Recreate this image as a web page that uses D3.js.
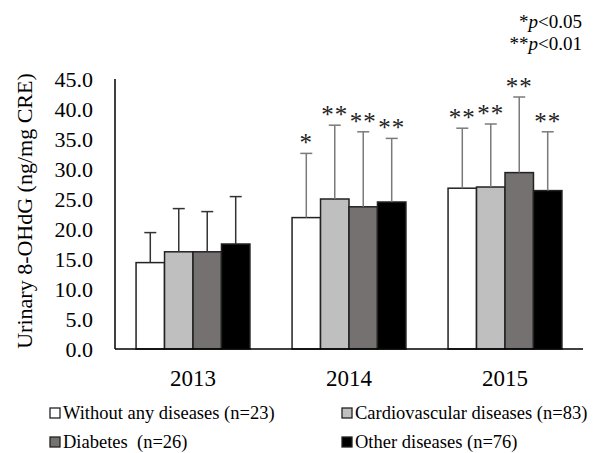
<!DOCTYPE html>
<html>
<head>
<meta charset="utf-8">
<script src="https://cdn.jsdelivr.net/npm/d3@7"></script>
<style>
  body { margin: 0; background: #fff; }
  svg { display: block; }
  svg text { font-family: "Liberation Serif", "Times New Roman", serif; }
</style>
</head>
<body>
<svg id="chart" width="593" height="453"></svg>
<script>
var years = ["2013", "2014", "2015"];
var groups = ["Without any diseases", "Cardiovascular diseases", "Diabetes", "Other diseases"];
var legendLabels = ["Without any diseases (n=23)", "Cardiovascular diseases (n=83)", "Diabetes  (n=26)", "Other diseases (n=76)"];
var colors = ["#ffffff", "#bfbfbf", "#767171", "#000000"];
// mean per group, one array per year
var means = [
  [14.4, 16.2, 16.2, 17.5],
  [21.9, 25.0, 23.7, 24.5],
  [26.8, 27.0, 29.4, 26.4]
];
// mean + SD (top of error bar)
var upper = [
  [19.4, 23.4, 22.9, 25.4],
  [32.6, 37.3, 36.2, 35.1],
  [36.8, 37.5, 42.0, 36.2]
];
var stars = [
  ["", "", "", ""],
  ["*", "**", "**", "**"],
  ["**", "**", "**", "**"]
];
var yTicks = [0, 5, 10, 15, 20, 25, 30, 35, 40, 45];

var svg = d3.select("#chart");

var y = d3.scaleLinear().domain([0, 45]).range([349, 79]);
var x0 = d3.scaleBand().domain(years).range([115, 583]).paddingInner(0.27).paddingOuter(0.135);
var x1 = d3.scaleBand().domain(groups).range([0, x0.bandwidth()]);

var data = [];
years.forEach(function(yr, i) {
  groups.forEach(function(g, j) {
    data.push({year: yr, group: g, idx: j, v: means[i][j], hi: upper[i][j], star: stars[i][j], yi: i});
  });
});

// bars
svg.append("g").selectAll("rect")
  .data(data)
  .enter()
  .append("rect")
  .attr("x", function(d) { return x0(d.year) + x1(d.group); })
  .attr("y", function(d) { return y(d.v); })
  .attr("width", x1.bandwidth())
  .attr("height", function(d) { return y(0) - y(d.v); })
  .attr("fill", function(d) { return colors[d.idx]; })
  .attr("stroke", "#222")
  .attr("stroke-width", 1.5);

// error bars
var err = svg.append("g").selectAll("g")
  .data(data)
  .enter()
  .append("g")
  .attr("stroke", function(d) { return d.yi == 0 ? "#333" : "#7a7a7a"; })
  .attr("stroke-width", 1.5);

err.append("line")
  .attr("x1", function(d) { return x0(d.year) + x1(d.group) + x1.bandwidth() / 2; })
  .attr("x2", function(d) { return x0(d.year) + x1(d.group) + x1.bandwidth() / 2; })
  .attr("y1", function(d) { return y(d.v); })
  .attr("y2", function(d) { return y(d.hi); });

err.append("line")
  .attr("x1", function(d) { return x0(d.year) + x1(d.group) + x1.bandwidth() / 2 - 6; })
  .attr("x2", function(d) { return x0(d.year) + x1(d.group) + x1.bandwidth() / 2 + 6; })
  .attr("y1", function(d) { return y(d.hi); })
  .attr("y2", function(d) { return y(d.hi); });

// significance stars
svg.append("g").selectAll("text")
  .data(data.filter(function(d) { return d.star != ""; }))
  .enter()
  .append("text")
  .attr("x", function(d) { return x0(d.year) + x1(d.group) + x1.bandwidth() / 2; })
  .attr("y", function(d) { return y(d.hi) - 2; })
  .attr("text-anchor", "middle")
  .attr("font-size", 25)
  .attr("letter-spacing", 1)
  .attr("fill", "#222")
  .text(function(d) { return d.star; });

// axes
svg.append("line")
  .attr("x1", 115).attr("x2", 115)
  .attr("y1", y(45)).attr("y2", y(0))
  .attr("stroke", "#000").attr("stroke-width", 1.5);
svg.append("line")
  .attr("x1", 115).attr("x2", 583)
  .attr("y1", y(0)).attr("y2", y(0))
  .attr("stroke", "#000").attr("stroke-width", 1.5);

svg.append("g").selectAll("text")
  .data(yTicks)
  .enter()
  .append("text")
  .attr("x", 93)
  .attr("y", function(d) { return y(d); })
  .attr("dy", "0.35em")
  .attr("text-anchor", "end")
  .attr("font-size", 22)
  .text(function(d) { return d.toFixed(1); });

svg.append("g").selectAll("text")
  .data(years)
  .enter()
  .append("text")
  .attr("x", function(d) { return x0(d) + x0.bandwidth() / 2; })
  .attr("y", 386)
  .attr("text-anchor", "middle")
  .attr("font-size", 23)
  .text(function(d) { return d; });

svg.append("text")
  .attr("transform", "translate(32,211) rotate(-90)")
  .attr("text-anchor", "middle")
  .attr("font-size", 22)
  .text("Urinary 8-OHdG (ng/mg CRE)");

// p-value note
var note = svg.append("g").attr("font-size", 19).attr("text-anchor", "end");
var n1 = note.append("text").attr("x", 582).attr("y", 28);
n1.append("tspan").text("*");
n1.append("tspan").attr("font-style", "italic").text("p");
n1.append("tspan").text("<0.05");
var n2 = note.append("text").attr("x", 582).attr("y", 50);
n2.append("tspan").text("**");
n2.append("tspan").attr("font-style", "italic").text("p");
n2.append("tspan").text("<0.01");

// legend
var legX = [50, 342, 50, 342];
var legY = [413, 413, 442, 442];
var leg = svg.append("g").selectAll("g")
  .data(legendLabels)
  .enter()
  .append("g")
  .attr("transform", function(d, i) { return "translate(" + legX[i] + "," + legY[i] + ")"; });

leg.append("rect")
  .attr("x", 0).attr("y", -5)
  .attr("width", 10).attr("height", 10)
  .attr("fill", function(d, i) { return colors[i]; })
  .attr("stroke", "#222")
  .attr("stroke-width", 1.3);

leg.append("text")
  .attr("x", 13)
  .attr("y", 0)
  .attr("dy", "0.35em")
  .attr("font-size", 18.5)
  .attr("xml:space", "preserve")
  .text(function(d) { return d; });
</script>
</body>
</html>
